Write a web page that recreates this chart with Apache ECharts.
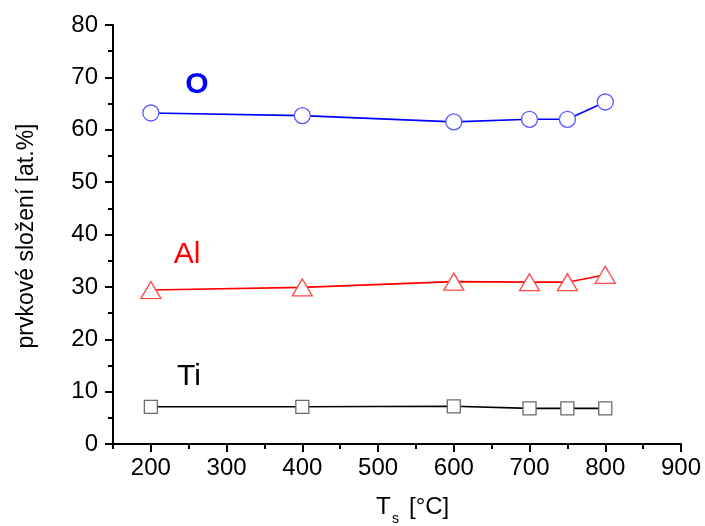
<!DOCTYPE html>
<html>
<head>
<meta charset="utf-8">
<script src="https://cdn.jsdelivr.net/npm/echarts@6/dist/echarts.min.js"></script>
<style>html,body{margin:0;padding:0;background:#fff}#c{width:705px;height:526px}</style>
</head>
<body>
<div id="c"></div>
<script>
var temps = [200, 400, 600, 700, 750, 800];
var oxygen = [63.2, 62.7, 61.5, 62.0, 62.0, 65.3];
var aluminium = [29.4, 29.9, 31.0, 30.9, 30.9, 32.3];
var titanium = [7.1, 7.1, 7.2, 6.8, 6.8, 6.8];
var xMajorTicks = [200, 300, 400, 500, 600, 700, 800, 900];
var xMinorTicks = [150, 250, 350, 450, 550, 650, 750, 850];
var seriesNames = ['O', 'Al', 'Ti'];

var FONT = '"Liberation Sans", Arial, sans-serif';
function pairs(xs, ys) { return xs.map(function (x, i) { return [x, ys[i]]; }); }

var chart = echarts.init(document.getElementById('c'));
chart.setOption({
  animation: false,
  backgroundColor: '#fff',
  grid: { left: 113, right: 24, top: 25, bottom: 82, containLabel: false },
  xAxis: [{
    type: 'value', min: 150, max: 900, position: 'bottom',
    splitLine: { show: false },
    axisLine: { lineStyle: { color: '#000', width: 2 } },
    axisTick: { customValues: xMajorTicks, length: 8, lineStyle: { color: '#000', width: 2 } },
    axisLabel: { customValues: xMajorTicks, margin: 12, color: '#000', fontSize: 24, fontFamily: FONT }
  }, {
    type: 'value', min: 150, max: 900, position: 'bottom',
    splitLine: { show: false },
    axisLine: { show: false },
    axisTick: { customValues: xMinorTicks, length: 5, lineStyle: { color: '#000', width: 2 } },
    axisLabel: { show: false }
  }],
  yAxis: {
    type: 'value', min: 0, max: 80, interval: 10,
    splitLine: { show: false },
    axisLine: { show: true, lineStyle: { color: '#000', width: 2 } },
    axisTick: { show: true, length: 8, lineStyle: { color: '#000', width: 2 } },
    minorTick: { show: true, splitNumber: 2, length: 5, lineStyle: { color: '#000', width: 2 } },
    axisLabel: { margin: 15, color: '#000', fontSize: 24, fontFamily: FONT }
  },
  series: [{
    name: seriesNames[0], type: 'line', data: pairs(temps, oxygen),
    symbol: 'circle', symbolSize: 16,
    lineStyle: { color: '#0000ff', width: 1.6 },
    itemStyle: { color: '#fff', borderColor: '#5a5aff', borderWidth: 1.3 }
  }, {
    name: seriesNames[1], type: 'line', data: pairs(temps, aluminium),
    symbol: 'triangle', symbolSize: [20, 17],
    lineStyle: { color: '#ff0000', width: 1.6 },
    itemStyle: { color: '#fff', borderColor: '#ff4a4a', borderWidth: 1.3 }
  }, {
    name: seriesNames[2], type: 'line', data: pairs(temps, titanium),
    symbol: 'rect', symbolSize: 13,
    lineStyle: { color: '#000', width: 1.6 },
    itemStyle: { color: '#fff', borderColor: '#6a6a6a', borderWidth: 1.3 }
  }],
  graphic: [
    { type: 'text', x: 197, y: 85, style: { text: seriesNames[0], fill: '#0000ff', font: 'bold 30px ' + FONT, align: 'center', verticalAlign: 'middle' } },
    { type: 'text', x: 187, y: 255, style: { text: seriesNames[1], fill: '#ff0000', font: '30px ' + FONT, align: 'center', verticalAlign: 'middle' } },
    { type: 'text', x: 189, y: 377, style: { text: seriesNames[2], fill: '#000', font: '30px ' + FONT, align: 'center', verticalAlign: 'middle' } },
    { type: 'text', x: 27, y: 236, rotation: Math.PI / 2, style: { text: 'prvkové složení [at.%]', fill: '#000', font: '23px ' + FONT, align: 'center', verticalAlign: 'middle' } },
    { type: 'text', x: 376, y: 507, style: { text: 'T', fill: '#000', font: '24px ' + FONT, align: 'left', verticalAlign: 'middle' } },
    { type: 'text', x: 392, y: 519, style: { text: 's', fill: '#000', font: '14px ' + FONT, align: 'left', verticalAlign: 'middle' } },
    { type: 'text', x: 409, y: 507, style: { text: '[°C]', fill: '#000', font: '24px ' + FONT, align: 'left', verticalAlign: 'middle' } }
  ]
});
</script>
</body>
</html>
